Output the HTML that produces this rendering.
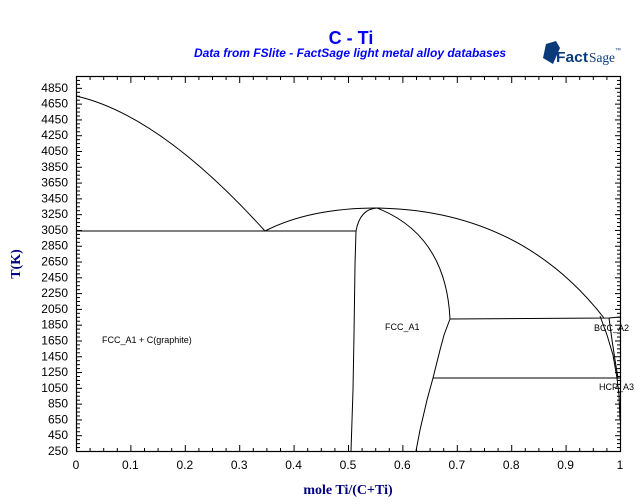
<!DOCTYPE html>
<html><head><meta charset="utf-8"><style>
body{margin:0;background:#fff;width:640px;height:504px;overflow:hidden}
svg{display:block}
</style></head><body>
<svg width="640" height="504" xmlns="http://www.w3.org/2000/svg">
<text x="351" y="44" text-anchor="middle" font-family="Liberation Sans, sans-serif" font-weight="bold" font-size="18" fill="#0000ff">C - Ti</text>
<text x="350" y="57" text-anchor="middle" font-family="Liberation Sans, sans-serif" font-weight="bold" font-style="italic" font-size="12" fill="#0000ff">Data from FSlite - FactSage light metal alloy databases</text>
<g>
<polygon points="546,44 556,41 560,48 553,64 543,58" fill="#0a3a7a"/>
<text x="556" y="62" font-family="Liberation Sans, sans-serif" font-weight="bold" font-size="15" fill="#0a3a7a" textLength="32" lengthAdjust="spacingAndGlyphs">Fact</text>
<text x="589" y="62" font-family="Liberation Serif, serif" font-size="14" fill="#0a3a7a" textLength="26" lengthAdjust="spacingAndGlyphs">Sage</text>
<text x="615" y="52" font-family="Liberation Sans, sans-serif" font-size="6" fill="#0a3a7a">™</text>
</g>
<rect x="76.5" y="76.5" width="544" height="375" fill="none" stroke="#000" stroke-width="1.2"/>
<g id="ticks" stroke="#000" stroke-width="1"></g>
<g font-family="Liberation Sans, sans-serif" font-size="12" fill="#000" id="ylab" text-anchor="end"></g>
<g font-family="Liberation Sans, sans-serif" font-size="12" fill="#000" id="xlab" text-anchor="middle"></g>
<text transform="translate(20,264) rotate(-90)" text-anchor="middle" font-family="Liberation Serif, serif" font-weight="bold" font-size="14" fill="#000080">T(K)</text>
<text x="348" y="494" text-anchor="middle" font-family="Liberation Serif, serif" font-weight="bold" font-size="14" fill="#000080">mole Ti/(C+Ti)</text>
<g fill="none" stroke="#000" stroke-width="1">
<path d="M76,96 Q160,115 265,231"/>
<polyline points="76,231 356,231"/>
<path d="M265,231 Q310,208 377,208 Q520,210 604,318"/>
<path d="M351,451 L353,390 L354,335 L355,265 L356,231 Q360,209 377,208"/>
<path d="M377,208 Q446,235 450,319"/>
<polyline points="450,319 444,335 440,350 433,378 427,400 420,430 416,451"/>
<polyline points="450,319 609,318 620,317"/>
<polyline points="433,378 620,378"/>
<polyline points="600,316 607,335 613,355 617,378 619,395 620,420"/>
<polyline points="609,318 612,340 615,360 618,378"/>
</g>
<g font-family="Liberation Sans, sans-serif" font-size="9" fill="#000">
<text x="102" y="343">FCC_A1 + C(graphite)</text>
<text x="385" y="330">FCC_A1</text>
<text x="594" y="331">BCC_A2</text>
<text x="599" y="390">HCP_A3</text>
</g>
<script>
var t=document.getElementById('ticks'),yl=document.getElementById('ylab'),xl=document.getElementById('xlab'),ns='http://www.w3.org/2000/svg';
function ln(a,b,c,d){var l=document.createElementNS(ns,'line');l.setAttribute('x1',a);l.setAttribute('y1',b);l.setAttribute('x2',c);l.setAttribute('y2',d);t.appendChild(l);}
function Y(T){return 451-(T-250)*375/4750;}
function X(v){return 76+v*544;}
for(var T=250;T<=5000;T+=50){var y=Y(T)+0.5,maj=((T-250)%200==0);var L=maj?5:3;ln(77,y,77+L,y);ln(620,y,620-L,y);}
for(var T=250;T<=4850;T+=200){var s=document.createElementNS(ns,'text');s.setAttribute('x',68);s.setAttribute('y',Y(T)+4);s.textContent=T;yl.appendChild(s);}
for(var i=0;i<=40;i++){var x=X(i/40)+0.5,maj=(i%4==0);var L=maj?6:3;ln(x,451,x,451-L);ln(x,77,x,77+L);}
for(var i=0;i<=10;i++){var s=document.createElementNS(ns,'text');s.setAttribute('x',X(i/10));s.setAttribute('y',469);s.textContent=(i==0?'0':i==10?'1':(i/10).toString());xl.appendChild(s);}
</script>
</svg>
</body></html>
